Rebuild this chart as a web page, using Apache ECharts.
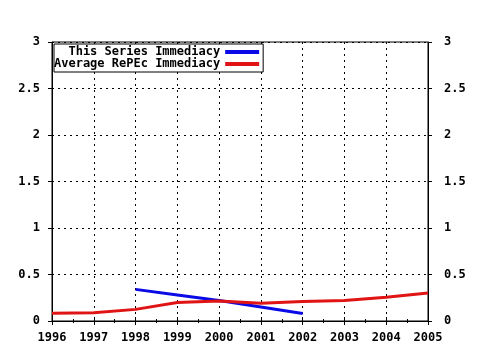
<!doctype html>
<html>
<head>
<meta charset="UTF-8">
<title>Immediacy</title>
<script src="https://cdn.jsdelivr.net/npm/echarts@6/dist/echarts.min.js"></script>
<style>
html,body{margin:0;padding:0;background:#fff;}
#main{width:480px;height:350px;}
</style>
</head>
<body>
<div id="main"></div>
<script>
var seriesYears = [1998, 1999, 2000, 2001, 2002];
var seriesValues = [0.34, 0.28, 0.22, 0.15, 0.08];
var repecYears = [1996, 1997, 1998, 1999, 2000, 2001, 2002, 2003, 2004, 2005];
var repecValues = [0.083, 0.09, 0.125, 0.20, 0.215, 0.19, 0.21, 0.22, 0.255, 0.30];
var seriesNames = ['This Series Immediacy', 'Average RePEc Immediacy'];

function pairs(xs, ys) {
  var out = [];
  for (var i = 0; i < xs.length; i++) out.push([xs[i], ys[i]]);
  return out;
}

var font = {fontFamily: 'DejaVu Sans Mono', fontWeight: 'bold', fontSize: 12, color: '#000'};
var axLine = {show: true, lineStyle: {color: '#000', width: 1}};

var myChart = echarts.init(document.getElementById('main'));
var option = {
  animation: false,
  backgroundColor: '#fff',
  grid: {left: 52, right: 52, top: 42, bottom: 29, show: true, borderColor: '#000', borderWidth: 1},
  legend: {
    data: seriesNames,
    orient: 'vertical',
    left: 54, top: 44,
    align: 'right',
    padding: [2, 4, 2, 0],
    itemGap: 0,
    itemWidth: 34, itemHeight: 4,
    icon: 'rect',
    backgroundColor: '#fff',
    borderColor: '#000', borderWidth: 1,
    textStyle: {fontFamily: 'DejaVu Sans Mono', fontWeight: 'bold', fontSize: 12, color: '#000',
      width: 166, align: 'right', lineHeight: 12}
  },
  xAxis: [{
    type: 'value', min: 1996, max: 2005, interval: 1,
    axisLine: axLine,
    axisTick: {show: true, length: 4, inside: true, lineStyle: {color: '#000'}},
    minorTick: {show: true, splitNumber: 2, length: 2, lineStyle: {color: '#000'}},
    axisLabel: Object.assign({margin: 11, formatter: function (v) { return String(v); }}, font),
    splitLine: {show: true, lineStyle: {color: '#000', type: [2, 4], width: 1}}
  }, {
    type: 'value', min: 1996, max: 2005, interval: 1, position: 'top',
    axisLine: axLine,
    axisTick: {show: true, length: 4, inside: true, lineStyle: {color: '#000'}},
    minorTick: {show: true, splitNumber: 2, length: 2, lineStyle: {color: '#000'}},
    axisLabel: {show: false},
    splitLine: {show: false}
  }],
  yAxis: [{
    type: 'value', min: 0, max: 3, interval: 0.5,
    axisLine: axLine,
    axisTick: {show: true, length: 4, lineStyle: {color: '#000'}},
    axisLabel: Object.assign({margin: 12}, font),
    splitLine: {show: true, lineStyle: {color: '#000', type: [2, 4], width: 1}}
  }, {
    type: 'value', min: 0, max: 3, interval: 0.5, position: 'right',
    axisLine: axLine,
    axisTick: {show: true, length: 4, lineStyle: {color: '#000'}},
    axisLabel: Object.assign({margin: 16}, font),
    splitLine: {show: false}
  }],
  series: [{
    name: seriesNames[0], type: 'line', data: pairs(seriesYears, seriesValues),
    showSymbol: false, color: '#0a0ae6', lineStyle: {width: 3}
  }, {
    name: seriesNames[1], type: 'line', data: pairs(repecYears, repecValues),
    showSymbol: false, color: '#e01414', lineStyle: {width: 3}
  }]
};
myChart.setOption(option);
</script>
</body>
</html>
